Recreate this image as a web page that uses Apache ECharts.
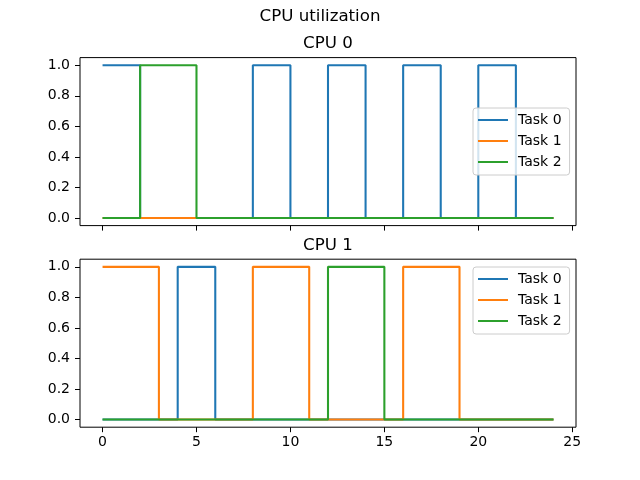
<!DOCTYPE html>
<html>
<head>
<meta charset="utf-8">
<script src="https://cdn.jsdelivr.net/npm/echarts@6/dist/echarts.min.js"></script>
<style>
html,body{margin:0;padding:0;background:#fff;}
#chart{width:640px;height:480px;}
</style>
</head>
<body>
<div id="chart"></div>
<script>
// ---- data ----
const time = [0,1,2,3,4,5,6,7,8,9,10,11,12,13,14,15,16,17,18,19,20,21,22,23,24];
const taskNames = ['Task 0', 'Task 1', 'Task 2'];
const cpuTitles = ['CPU 0', 'CPU 1'];
const cpu0Task0 = [1,1,0,0,0,0,0,0,1,1,0,0,1,1,0,0,1,1,0,0,1,1,0,0,0];
const cpu0Task1 = [0,0,0,0,0,0,0,0,0,0,0,0,0,0,0,0,0,0,0,0,0,0,0,0,0];
const cpu0Task2 = [0,0,1,1,1,0,0,0,0,0,0,0,0,0,0,0,0,0,0,0,0,0,0,0,0];
const cpu1Task0 = [0,0,0,0,1,1,0,0,0,0,0,0,0,0,0,0,0,0,0,0,0,0,0,0,0];
const cpu1Task1 = [1,1,1,0,0,0,0,0,1,1,1,0,0,0,0,0,1,1,1,0,0,0,0,0,0];
const cpu1Task2 = [0,0,0,0,0,0,0,0,0,0,0,0,1,1,1,0,0,0,0,0,0,0,0,0,0];
const xTicks = [0,5,10,15,20,25];
const yTicks = [0,0.2,0.4,0.6,0.8,1.0];

const colors = ['#1f77b4', '#ff7f0e', '#2ca02c'];
const cpuData = [[cpu0Task0, cpu0Task1, cpu0Task2], [cpu1Task0, cpu1Task1, cpu1Task2]];
const FONT = 'DejaVu Sans';

const gridTops = [57.6, 259.2];
const grids = gridTops.map(t => ({
  left: 80, width: 496, top: t, height: 168,
  show: true, borderColor: '#000', borderWidth: 1, backgroundColor: 'transparent'
}));

const xAxes = [0, 1].map(i => ({
  type: 'value', gridIndex: i, min: -1.2, max: 25.2, position: 'bottom',
  axisLine: { show: false, onZero: false },
  splitLine: { show: false },
  axisTick: { show: true, length: 5, lineStyle: { color: '#000', width: 1 }, customValues: xTicks },
  axisLabel: { show: i === 1, customValues: xTicks, margin: 8, color: '#000', fontSize: 14, fontFamily: FONT,
    formatter: v => String(v) }
}));
const yAxes = [0, 1].map(i => ({
  type: 'value', gridIndex: i, min: -0.05, max: 1.05, position: 'left',
  axisLine: { show: false, onZero: false },
  splitLine: { show: false },
  axisTick: { show: true, length: 5, lineStyle: { color: '#000', width: 1 }, customValues: yTicks },
  axisLabel: { show: true, customValues: yTicks, margin: 10, color: '#000', fontSize: 14, fontFamily: FONT,
    formatter: v => v.toFixed(1) }
}));

const series = [];
for (let c = 0; c < 2; c++) {
  for (let k = 0; k < 3; k++) {
    series.push({
      type: 'line', name: taskNames[k], xAxisIndex: c, yAxisIndex: c,
      step: 'end', symbol: 'none', animation: false,
      lineStyle: { color: colors[k], width: 2.08 },
      itemStyle: { color: colors[k] },
      data: time.map((t, j) => [t, cpuData[c][k][j]])
    });
  }
}

const legendTops = [108, 267];
const legends = legendTops.map(t => ({
  data: taskNames, orient: 'vertical', left: 473, top: t,
  icon: 'rect', itemWidth: 30, itemHeight: 2, itemGap: 5,
  padding: [4, 8, 5, 5],
  backgroundColor: 'rgba(255,255,255,0.8)', borderColor: '#cccccc', borderWidth: 1, borderRadius: 3,
  selectedMode: false,
  textStyle: { color: '#000', fontSize: 14, fontFamily: FONT, padding: [0, 0, 0, 5], lineHeight: 16 }
}));

const titles = [
  { text: 'CPU utilization', left: 320, textAlign: 'center', top: 8, padding: 0,
    textStyle: { color: '#000', fontSize: 16.67, fontWeight: 'normal', fontFamily: FONT } }
].concat(cpuTitles.map((s, i) => ({
  text: s, left: 328, textAlign: 'center', top: gridTops[i] - 22, padding: 0,
  textStyle: { color: '#000', fontSize: 16.67, fontWeight: 'normal', fontFamily: FONT }
})));

const chart = echarts.init(document.getElementById('chart'), null, { renderer: 'canvas' });
chart.setOption({
  backgroundColor: '#fff',
  animation: false,
  title: titles,
  legend: legends,
  grid: grids,
  xAxis: xAxes,
  yAxis: yAxes,
  series: series
});
</script>
</body>
</html>
